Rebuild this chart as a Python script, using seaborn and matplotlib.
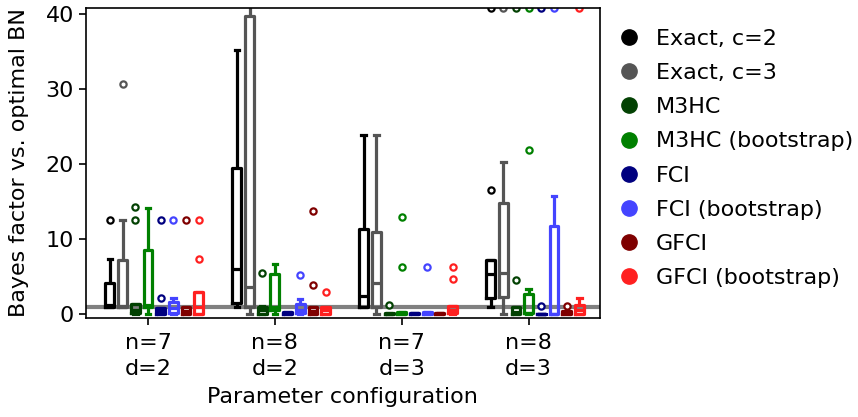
import matplotlib
matplotlib.use("Agg")
import matplotlib.pyplot as plt
from matplotlib.lines import Line2D
import pandas as pd
import seaborn as sns

# parameter configurations (x axis)
configs = ["n=7\nd=2", "n=8\nd=2", "n=7\nd=3", "n=8\nd=3"]

methods = ["Exact, c=2", "Exact, c=3", "M3HC", "M3HC (bootstrap)",
           "FCI", "FCI (bootstrap)", "GFCI", "GFCI (bootstrap)"]
colors = ["#000000", "#555555", "#034203", "#008000",
          "#00007f", "#4444ff", "#7f0000", "#ff2020"]

# Bayes factor samples, one list per configuration
exact_c2 = [
    [1.0, 1.0, 1.0, 1.1, 1.2, 2.5, 4.2, 7.4, 12.6],
    [1.0, 1.2, 1.5, 3.0, 6.0, 12.0, 19.5, 28.0, 35.2],
    [1.0, 1.0, 1.0, 1.5, 2.4, 6.0, 11.3, 18.0, 23.9],
    [1.0, 1.5, 2.1, 4.0, 5.4, 6.5, 7.2, 16.5, 40.8],
]
exact_c3 = [
    [1.0, 1.0, 1.0, 1.0, 1.1, 3.0, 7.2, 12.6, 30.7],
    [0.0, 0.5, 1.0, 2.0, 3.6, 15.0, 39.7, 50.0, 60.0],
    [0.0, 0.5, 1.0, 2.5, 4.2, 7.0, 10.9, 18.0, 23.9],
    [0.0, 1.0, 2.3, 4.0, 5.5, 10.0, 14.8, 20.2, 40.8],
]
m3hc = [
    [0.0, 0.1, 0.1, 0.4, 0.6, 1.0, 1.4, 12.6, 14.3],
    [0.0, 0.0, 0.0, 0.3, 0.5, 0.8, 1.0, 1.1, 5.5],
    [0.0, 0.0, 0.0, 0.0, 0.05, 0.1, 0.1, 0.1, 1.2],
    [0.0, 0.0, 0.0, 0.1, 0.3, 0.6, 1.0, 4.6, 40.8],
]
m3hc_boot = [
    [0.0, 0.8, 1.0, 1.1, 1.2, 4.0, 8.5, 11.0, 14.2],
    [0.0, 0.3, 0.6, 0.8, 1.0, 3.0, 5.3, 6.0, 6.7],
    [0.0, 0.0, 0.0, 0.1, 0.2, 0.3, 0.3, 6.3, 12.9],
    [0.0, 0.0, 0.05, 0.1, 0.1, 0.15, 0.2, 1.0, 2.0, 2.7, 3.3, 21.9, 40.8],
]
fci = [
    [0.0, 0.0, 0.0, 0.2, 0.4, 0.6, 0.8, 2.2, 12.6],
    [0.0, 0.0, 0.0, 0.0, 0.1, 0.2, 0.3, 0.3, 0.3],
    [0.0, 0.0, 0.0, 0.0, 0.1, 0.1, 0.2, 0.2, 0.2],
    [0.0, 0.0, 0.0, 0.0, 0.0, 0.0, 0.0, 1.1, 40.8],
]
fci_boot = [
    [0.0, 0.1, 0.2, 0.5, 0.8, 1.2, 1.6, 2.2, 12.6],
    [0.0, 0.05, 0.1, 0.3, 0.6, 1.0, 1.3, 2.0, 5.2],
    [0.0, 0.0, 0.0, 0.1, 0.1, 0.2, 0.3, 0.3, 6.3],
    [0.0, 0.0, 0.0, 0.0, 0.0, 5.0, 11.8, 15.7, 40.8],
]
gfci = [
    [0.0, 0.0, 0.0, 0.2, 0.4, 0.6, 0.9, 1.0, 12.6],
    [0.0, 0.0, 0.0, 0.2, 0.4, 0.6, 0.9, 3.9, 13.8],
    [0.0, 0.0, 0.0, 0.0, 0.1, 0.1, 0.2, 0.2, 0.2],
    [0.0, 0.0, 0.0, 0.1, 0.2, 0.3, 0.4, 0.4, 1.1],
]
gfci_boot = [
    [0.0, 0.05, 0.05, 0.5, 0.9, 2.0, 2.9, 7.4, 12.6],
    [0.0, 0.0, 0.0, 0.2, 0.5, 0.8, 1.0, 1.0, 3.0],
    [0.0, 0.1, 0.1, 0.3, 0.5, 0.8, 1.1, 4.7, 6.3],
    [0.0, 0.0, 0.0, 0.2, 0.5, 0.8, 1.2, 2.1, 40.8],
]

samples = [exact_c2, exact_c3, m3hc, m3hc_boot, fci, fci_boot, gfci, gfci_boot]

rows = []
for method, per_config in zip(methods, samples):
    for config, vals in zip(configs, per_config):
        for v in vals:
            rows.append({"config": config, "method": method, "bf": v})
df = pd.DataFrame(rows)

FS = 16
plt.rcParams["font.family"] = ["DejaVu Sans"]
plt.rcParams["font.size"] = FS

fig = plt.figure(figsize=(8.58, 4.17), dpi=100)
ax = fig.add_axes([0.100, 0.237, 0.599, 0.744])

ax.axhline(1, color="#808080", lw=3, zorder=0)

sns.boxplot(data=df, x="config", y="bf", hue="method",
            order=configs, hue_order=methods, palette=colors,
            fill=False, gap=0.3, linewidth=2.3, legend=False, ax=ax,
            flierprops=dict(marker="o", markersize=4.5, markeredgewidth=1.6,
                            markerfacecolor="white"))

ax.set_ylim(-0.55, 40.8)
ax.set_xlim(-0.54, 3.51)
ax.set_xticks([i - 0.05 for i in range(len(configs))])
ax.set_xticklabels(configs, linespacing=1.35)
ax.set_yticks([0, 10, 20, 30, 40])
ax.tick_params(labelsize=FS, length=5, width=1.2)
ax.tick_params(axis="x", pad=6)
for s in ax.spines.values():
    s.set_linewidth(1.2)
ax.set_xlabel("Parameter configuration", fontsize=FS, labelpad=6)
ax.set_ylabel("Bayes factor vs. optimal BN", fontsize=FS, labelpad=12)

handles = [Line2D([], [], marker="o", linestyle="none", color=c,
                  markersize=11) for c in colors]
ax.legend(handles, methods, loc="center left", bbox_to_anchor=(0.975, 0.515),
          frameon=False, fontsize=FS, handletextpad=0.2, labelspacing=0.64)

fig.savefig("out.png", dpi=100)
